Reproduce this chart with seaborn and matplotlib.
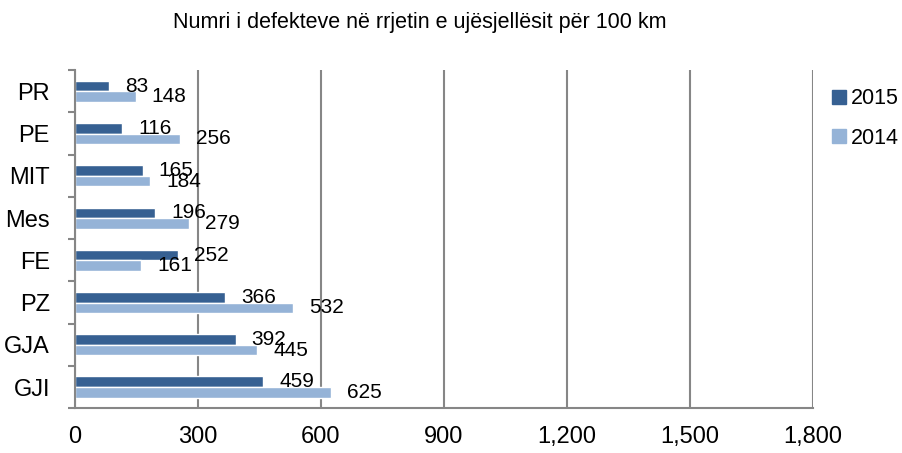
import pandas as pd
import matplotlib
matplotlib.use("Agg")
import matplotlib.pyplot as plt
import seaborn as sns

# Data
categories = ["PR", "PE", "MIT", "Mes", "FE", "PZ", "GJA", "GJI"]
values_2015 = [83, 116, 165, 196, 252, 366, 392, 459]
values_2014 = [148, 256, 184, 279, 161, 532, 445, 625]
years = ["2015", "2014"]
x_ticks = [0, 300, 600, 900, 1200, 1500, 1800]

df = pd.DataFrame({
    "cat": categories * 2,
    "year": ["2015"] * len(categories) + ["2014"] * len(categories),
    "val": values_2015 + values_2014,
})

sns.set_style("white")
plt.rcParams["font.family"] = ["Liberation Sans", "DejaVu Sans"]
plt.rcParams["text.color"] = "black"

fig = plt.figure(figsize=(9.03, 4.53), dpi=100)
ax = fig.add_axes([0.083, 0.099, 0.817, 0.746])

palette = {"2015": "#366092", "2014": "#95B3D7"}
sns.barplot(data=df, x="val", y="cat", hue="year", hue_order=years,
            order=categories, palette=palette, width=0.5, orient="h",
            saturation=1, ax=ax, errorbar=None)

# value labels right of each bar
for cont in ax.containers:
    ax.bar_label(cont, padding=11.5, fontsize=15, color="black")

ax.set_xlim(0, 1800)
ax.set_xticks(x_ticks)
ax.set_xticklabels([f"{t:,}" for t in x_ticks], fontsize=17)
ax.set_xlabel("")
ax.set_ylabel("")
ax.set_ylim(len(categories) - 0.5, -0.5)

grid_col = "#868686"
ax.grid(axis="x", color=grid_col, linewidth=1.5)
ax.grid(axis="y", visible=False)
ax.set_axisbelow(True)
for s in ["top", "right"]:
    ax.spines[s].set_visible(False)
for s in ["left", "bottom"]:
    ax.spines[s].set_color(grid_col)
    ax.spines[s].set_linewidth(1.5)

ax.tick_params(axis="x", length=0, pad=13, labelcolor="black")
ax.tick_params(axis="y", which="major", length=0, pad=18, labelsize=17,
               labelcolor="black")
ax.set_yticks([i - 0.5 for i in range(len(categories) + 1)], minor=True)
ax.tick_params(axis="y", which="minor", length=5, width=1.5, color=grid_col, left=True)

ax.legend_.remove()
handles = [plt.Rectangle((0, 0), 1, 1, color=palette[y]) for y in years]
fig.legend(handles, years, loc="upper left", bbox_to_anchor=(0.921, 0.805),
           frameon=False, fontsize=15.5, handlelength=0.65, handleheight=0.65,
           handletextpad=0.25, labelspacing=0.85, borderpad=0, borderaxespad=0)

fig.text(0.465, 0.951, "Numri i defekteve në rrjetin e ujësjellësit për 100 km",
         ha="center", va="center", fontsize=15.5)

fig.savefig("out.png", dpi=100)
